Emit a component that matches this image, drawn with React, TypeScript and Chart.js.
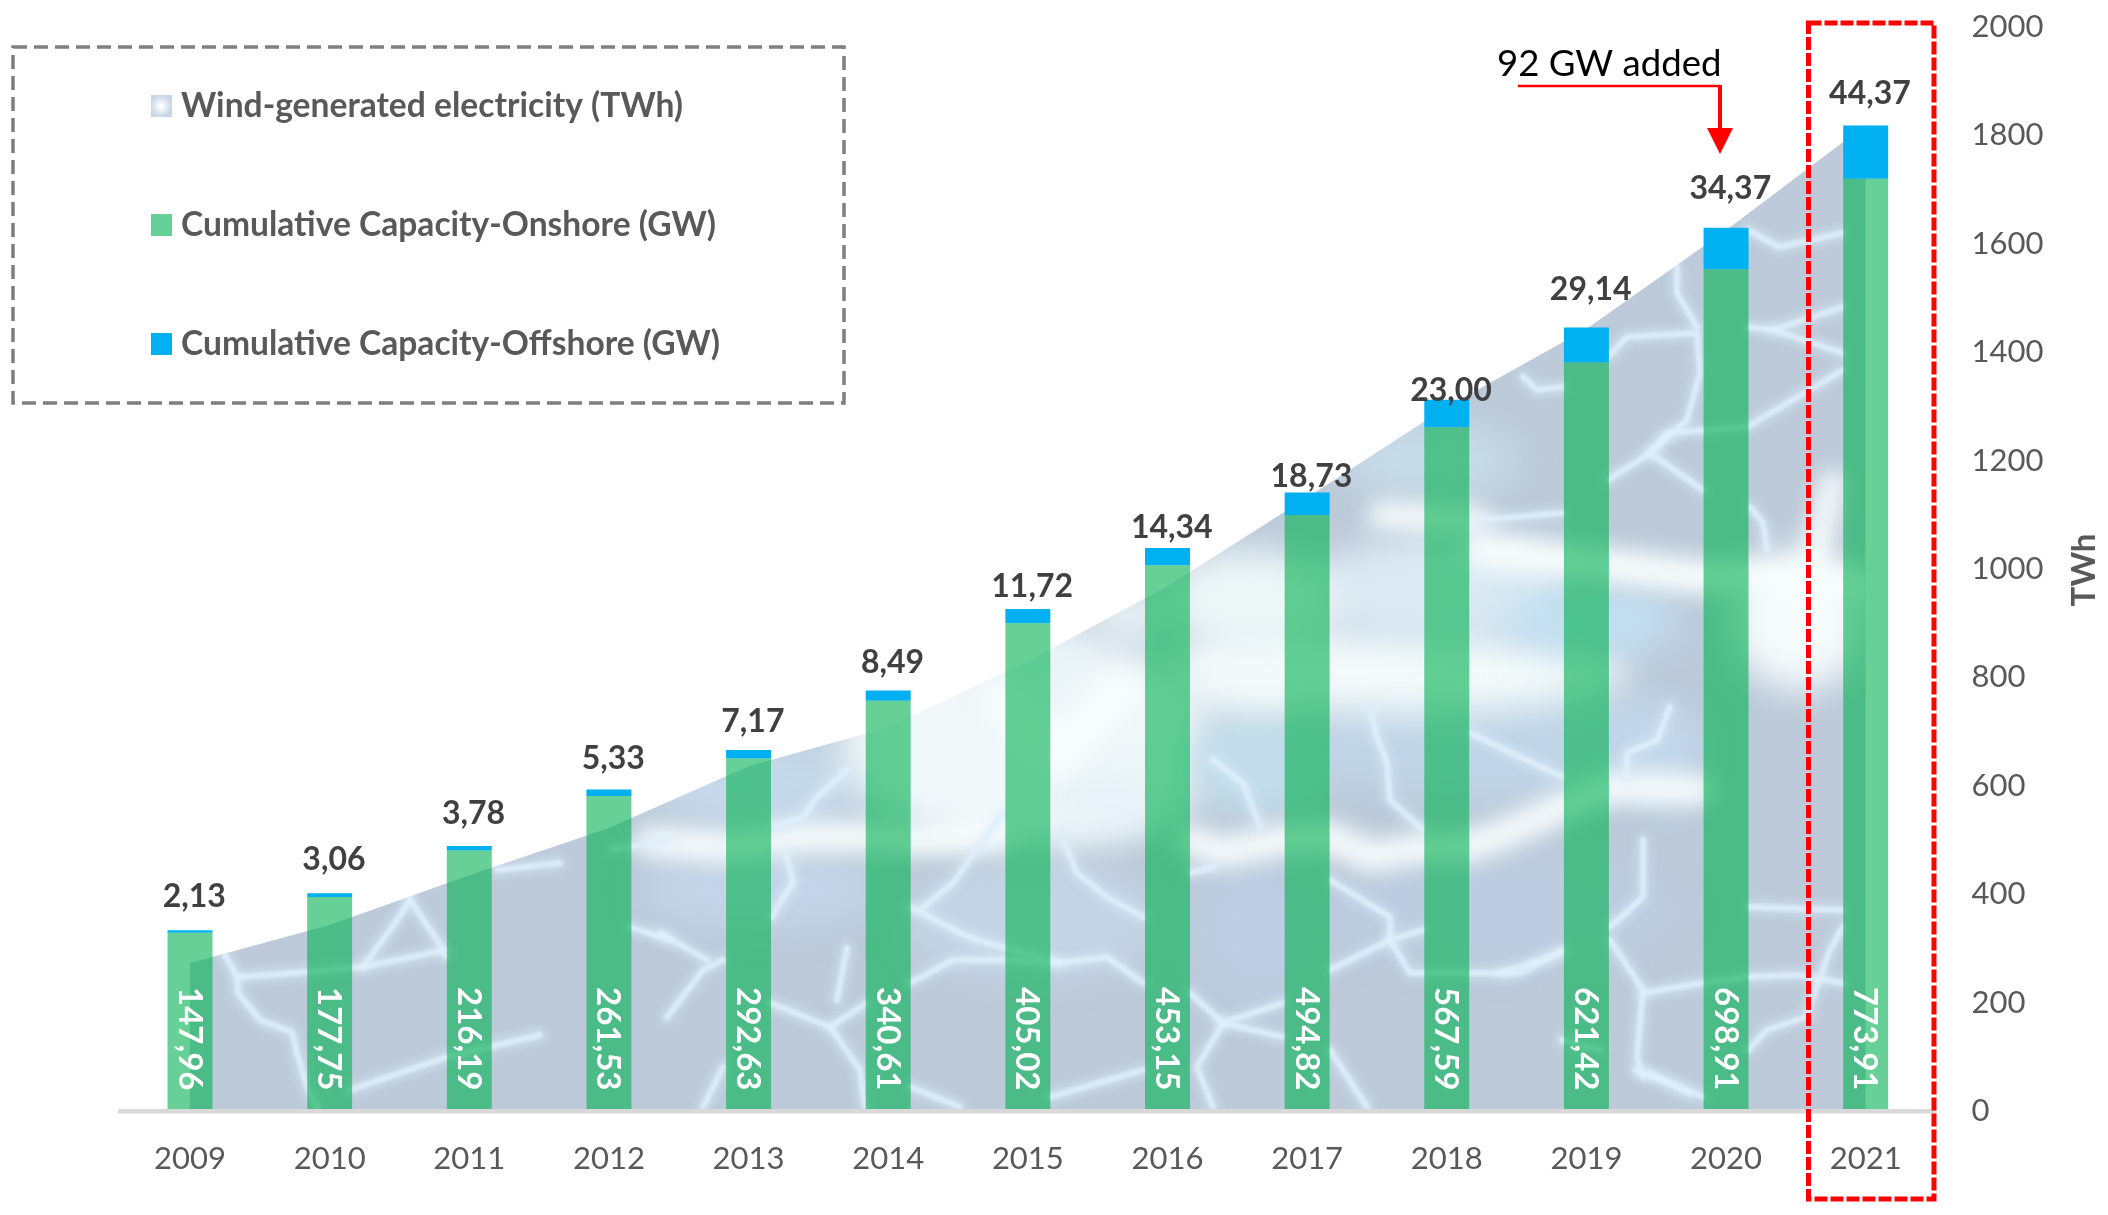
import React, { useEffect, useRef } from "react";
import { Chart, registerables } from "chart.js";

Chart.register(...registerables);

const years = ["2009","2010","2011","2012","2013","2014","2015","2016","2017","2018","2019","2020","2021"];
const onshore = [147.96,177.75,216.19,261.53,292.63,340.61,405.02,453.15,494.82,567.59,621.42,698.91,773.91];
const offshore = [2.13,3.06,3.78,5.33,7.17,8.49,11.72,14.34,18.73,23.0,29.14,34.37,44.37];
const electricity = [273,343,435,522,636,708,830,968,1132,1299,1443,1625,1819];
const labelLift = [23,23,22,21,18,18,12,10,5,-1,27,29,21];
const legendNames = ["Wind-generated electricity (TWh)","Cumulative Capacity-Onshore (GW)","Cumulative Capacity-Offshore (GW)"];

const FONT = "Lato, Carlito, sans-serif";
const GREY = "#595959";
const fmt = (v: number) => v.toFixed(2).replace(".", ",");

// Painted backdrop of the area fill: soft patches, bright bands and thin streaks
const patches: [number, number, number, number, string][] = [
  [760,785,110,45,"#c5d9ea"],[760,890,120,40,"#c3d5e8"],[1030,740,190,110,"#f0f8fa"],[1030,920,130,60,"#c5d4e4"],
  [1260,760,75,55,"#c2dde9"],[1260,930,70,70,"#bdcee2"],[1500,740,200,60,"#c0d5e7"],[1500,910,180,55,"#bdcce0"],
  [1400,670,230,42,"#f4fbfb"],[1250,670,70,35,"#f2fafb"],[1430,460,90,38,"#c7dbe8"],[1440,590,130,55,"#dbeaf3"],
  [1590,620,90,35,"#c3e0f2"],[1250,600,90,50,"#edf7f8"],[1800,620,70,70,"#f6fbfc"],[1660,760,40,50,"#c2d7ea"],
  [1020,660,60,40,"#e8f3f7"],[1130,615,40,30,"#e8f2f6"],[1110,800,70,30,"#e6f2f7"],
];
const bands: [number, number[][]][] = [
  [30,[[650,842],[727,847],[803,837],[867,837],[913,840],[1000,832]]],
  [30,[[1190,840],[1220,853],[1283,840],[1330,837],[1370,857],[1423,847],[1470,847],[1520,827],[1563,807],[1610,787],[1700,790]]],
  [26,[[1380,515],[1480,520]]],
  [34,[[1480,550],[1563,560],[1703,577],[1748,577],[1860,585]]],
  [26,[[1813,563],[1833,483]]],
  [40,[[1000,700],[1060,757],[1120,690]]],
];
const streaks: number[][][] = [
  [[225,955],[237,977],[238,993],[260,1020],[292,1032],[297,1053],[307,1087],[317,1107]],
  [[240,977],[306,972],[363,967],[446,950]],
  [[350,1090],[447,1057],[540,1035]],
  [[410,900],[395,923],[363,967]],[[410,900],[437,940],[447,957]],
  [[497,870],[560,863]],[[630,927],[670,940]],[[612,850],[670,840]],
  [[773,827],[803,817],[817,797],[847,770]],[[787,857],[793,883],[777,907],[772,917]],
  [[667,1017],[703,970],[723,960]],[[660,933],[707,960]],
  [[770,1003],[830,1027],[860,1070],[865,1107]],[[830,1027],[867,1003]],[[847,948],[837,1000]],
  [[703,1107],[723,1067]],[[910,983],[953,960],[1007,960],[1060,963],[1107,957],[1143,983]],
  [[1060,833],[1077,873],[1107,897],[1143,917]],[[910,907],[960,933],[977,940],[1060,963]],
  [[920,910],[953,883],[1003,813]],[[910,1087],[960,1107]],[[1050,1097],[1143,1070]],
  [[1330,880],[1390,917],[1390,940],[1330,970]],[[1390,940],[1423,930]],
  [[1390,940],[1410,973],[1470,973],[1520,973],[1563,950]],[[1470,733],[1520,757],[1563,777]],
  [[1190,993],[1223,1023],[1283,1003]],[[1223,1023],[1283,1037]],[[1223,1023],[1197,1067],[1213,1107]],
  [[1330,1050],[1367,1107]],[[1370,710],[1377,737],[1387,763],[1390,800],[1423,830]],
  [[1670,707],[1657,740],[1627,753],[1627,777]],[[1610,940],[1643,990],[1637,1057],[1643,1077]],
  [[1643,840],[1643,897],[1610,927]],[[1650,1073],[1690,1093]],[[1213,760],[1243,783],[1260,827]],
  [[1190,873],[1213,867]],[[1608,357],[1627,337],[1697,333],[1700,373],[1687,420],[1650,453],[1608,480]],
  [[1677,267],[1677,293],[1697,327]],[[1650,453],[1703,490]],[[1650,453],[1667,433],[1747,427],[1843,370]],
  [[1748,327],[1773,330],[1843,307]],[[1773,330],[1843,353]],[[1750,507],[1763,523],[1767,550]],
  [[1523,377],[1537,390],[1563,387]],[[1480,520],[1563,513]],[[1748,230],[1779,247],[1843,233]],
  [[1500,973],[1562,953]],[[1748,1050],[1767,1030],[1806,1017],[1830,950],[1843,927]],
  [[1643,993],[1702,983],[1748,977],[1800,975],[1843,983]],[[1636,1070],[1678,1087],[1704,1097]],
  [[1748,907],[1843,910]],[[1562,1040],[1600,1050]],
];

function buildBackdrop(w: number, h: number) {
  const c = document.createElement("canvas");
  c.width = w;
  c.height = h;
  const g = c.getContext("2d")!;
  g.fillStyle = "#bccad9";
  g.fillRect(0, 0, w, h);
  g.filter = "blur(18px)";
  for (const [x, y, rx, ry, col] of patches) {
    g.fillStyle = col;
    g.beginPath();
    g.ellipse(x, y, rx, ry, 0, 0, Math.PI * 2);
    g.fill();
  }
  const line = (pts: number[][]) => {
    g.beginPath();
    pts.forEach(([x, y], i) => (i ? g.lineTo(x, y) : g.moveTo(x, y)));
    g.stroke();
  };
  g.lineCap = "round";
  g.lineJoin = "round";
  g.filter = "blur(11px)";
  g.strokeStyle = "#f8fdfd";
  for (const [width, pts] of bands) {
    g.lineWidth = width;
    line(pts);
  }
  g.filter = "blur(4px)";
  g.strokeStyle = "rgba(222,240,252,0.4)";
  g.lineWidth = 15;
  streaks.forEach(line);
  g.filter = "blur(1.8px)";
  g.strokeStyle = "rgba(222,239,251,0.85)";
  g.lineWidth = 6;
  streaks.forEach(line);
  g.filter = "none";
  return c;
}

const overlay = {
  id: "overlay",
  afterDatasetsDraw(chart: any) {
    const c = chart.ctx;
    const on = chart.getDatasetMeta(1).data;
    const off = chart.getDatasetMeta(2).data;
    c.save();
    c.textBaseline = "alphabetic";
    c.textAlign = "center";
    c.fillStyle = "#404040";
    c.font = `bold 32px ${FONT}`;
    off.forEach((bar: any, i: number) => {
      c.fillText(fmt(offshore[i]), bar.x + 4.3, bar.y - labelLift[i]);
    });
    c.fillStyle = "#ffffff";
    c.font = `bold 33px ${FONT}`;
    c.textAlign = "left";
    on.forEach((bar: any, i: number) => {
      c.save();
      c.translate(bar.x - 11.5, chart.chartArea.bottom - 124);
      c.rotate(Math.PI / 2);
      c.fillText(fmt(onshore[i]), 0, 0);
      c.restore();
    });
    c.restore();
  },
  afterDraw(chart: any) {
    const c = chart.ctx;
    c.save();
    // legend frame
    c.strokeStyle = "#7f7f7f";
    c.lineWidth = 3.5;
    c.setLineDash([14, 7]);
    c.strokeRect(13, 47, 831, 356);
    c.setLineDash([]);
    // legend entries
    const rows = [106, 225, 344];
    const colours = ["#c7d6e6", "rgba(0,176,80,0.6)", "#00b0f0"];
    c.textBaseline = "middle";
    c.textAlign = "left";
    c.font = `bold 33.6px ${FONT}`;
    rows.forEach((y, i) => {
      c.fillStyle = colours[i];
      c.fillRect(151, y - 11, 21, 22);
      if (i === 0) {
        const glow = c.createRadialGradient(161, y, 1, 161, y, 11);
        glow.addColorStop(0, "#ffffff");
        glow.addColorStop(1, "rgba(255,255,255,0)");
        c.fillStyle = glow;
        c.fillRect(151, y - 11, 21, 22);
      }
      c.fillStyle = GREY;
      c.fillText(legendNames[i], 181, y);
    });
    // axis title
    c.save();
    c.translate(2095, 570);
    c.rotate(-Math.PI / 2);
    c.textAlign = "center";
    c.textBaseline = "alphabetic";
    c.font = `bold 33px ${FONT}`;
    c.fillStyle = GREY;
    c.fillText("TWh", 0, 0);
    c.restore();
    // 2021 highlight
    c.strokeStyle = "#ff0000";
    c.lineWidth = 5;
    c.setLineDash([13, 3]);
    c.strokeRect(1808.5, 23, 125.5, 1176);
    c.setLineDash([]);
    // annotation
    c.fillStyle = "#000000";
    c.textAlign = "left";
    c.textBaseline = "alphabetic";
    c.font = `36.6px ${FONT}`;
    c.fillText("92 GW added", 1497, 76);
    c.lineWidth = 2.6;
    c.beginPath();
    c.moveTo(1518, 86);
    c.lineTo(1720, 86);
    c.stroke();
    c.lineWidth = 4;
    c.strokeStyle = "#ff0000";
    c.beginPath();
    c.moveTo(1720, 85);
    c.lineTo(1720, 130);
    c.stroke();
    c.fillStyle = "#ff0000";
    c.beginPath();
    c.moveTo(1707, 128);
    c.lineTo(1733, 128);
    c.lineTo(1720, 154);
    c.closePath();
    c.fill();
    c.restore();
  },
};

const noPadding = (s: any) => {
  s.paddingTop = 0;
  s.paddingBottom = 0;
  s.paddingLeft = 0;
  s.paddingRight = 0;
};

export default function App() {
  const ref = useRef<HTMLCanvasElement>(null);
  useEffect(() => {
    document.body.style.margin = "0";
    const canvas = ref.current!;
    const pattern = canvas.getContext("2d")!.createPattern(buildBackdrop(2108, 1215), "no-repeat");
    const chart = new Chart(canvas, {
      type: "bar",
      data: {
        labels: years,
        datasets: [
          {
            type: "line",
            label: legendNames[0],
            data: electricity,
            yAxisID: "y1",
            order: 3,
            fill: "origin",
            backgroundColor: pattern as any,
            borderWidth: 0,
            pointRadius: 0,
            tension: 0,
          },
          {
            label: legendNames[1],
            data: onshore,
            yAxisID: "y",
            stack: "cap",
            order: 1,
            backgroundColor: "rgba(0,176,80,0.6)",
            barPercentage: 0.322,
            categoryPercentage: 1,
          },
          {
            label: legendNames[2],
            data: offshore,
            yAxisID: "y",
            stack: "cap",
            order: 2,
            backgroundColor: "#00b0f0",
            barPercentage: 0.322,
            categoryPercentage: 1,
          },
        ],
      } as any,
      options: {
        responsive: false,
        animation: false,
        devicePixelRatio: 1,
        layout: { autoPadding: false, padding: { left: 120.2, top: 27, right: 0, bottom: 0 } },
        plugins: { legend: { display: false }, title: { display: false }, tooltip: { enabled: false } },
        scales: {
          x: {
            stacked: true,
            afterFit: (s: any) => { s.height = 104; noPadding(s); },
            grid: { display: false, drawTicks: false },
            border: { color: "#d9d9d9", width: 4.5, z: 1 },
            ticks: { color: GREY, font: { family: FONT, size: 31 }, padding: 29, maxRotation: 0, autoSkip: false },
          },
          y: { display: false, stacked: true, min: 0, max: 900 },
          y1: {
            position: "right",
            min: 0,
            max: 2000,
            afterFit: (s: any) => { s.width = 172.5; noPadding(s); },
            grid: { display: false, drawTicks: false },
            border: { display: false },
            ticks: { stepSize: 200, color: GREY, font: { family: FONT, size: 31 }, padding: 36, callback: (v: any) => String(v) },
          },
        },
      } as any,
      plugins: [overlay],
    });
    return () => chart.destroy();
  }, []);
  return (
    <div style={{ position: "absolute", left: 0, top: 0, width: 2108, height: 1215, background: "#fff" }}>
      <canvas ref={ref} width={2108} height={1215} style={{ display: "block", width: 2108, height: 1215 }} />
    </div>
  );
}
